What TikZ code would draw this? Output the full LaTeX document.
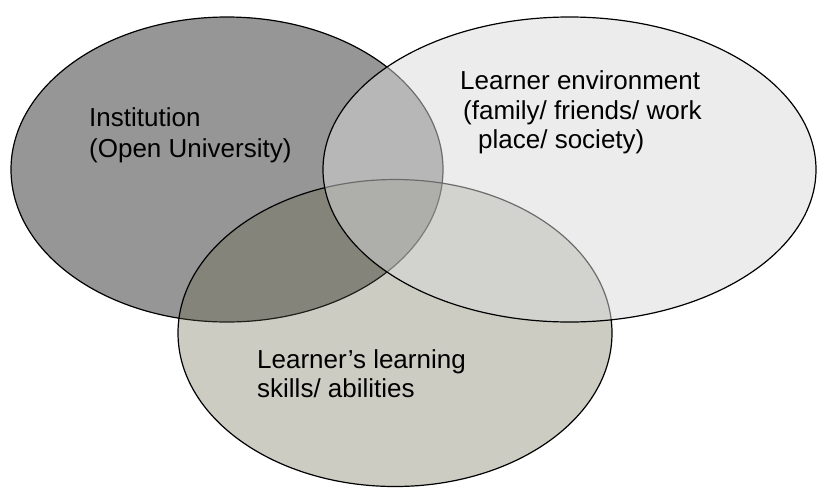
\documentclass[tikz,border=0pt]{standalone}
\usepackage{fontspec}
\setmainfont{Liberation Sans}
\usetikzlibrary{shapes.geometric}
\definecolor{darkfill}{RGB}{150,150,150}
\definecolor{olivefill}{RGB}{95,96,69}
\definecolor{lightfill}{RGB}{217,217,217}
\tikzset{
  venn/.style={ellipse, draw=black, line width=1.2pt, inner sep=0pt},
  lbl/.style={anchor=base west, inner sep=0pt, font=\fontsize{26}{30}\selectfont, text=black}
}
\begin{document}
\begin{tikzpicture}[x=1pt,y=-1pt]
\useasboundingbox (0,0) rectangle (817,488);
\node[venn, fill=darkfill, minimum width=432pt, minimum height=305pt] (inst) at (227,169.5) {};
\node[venn, fill=olivefill, fill opacity=0.32, minimum width=434pt, minimum height=307pt] (skills) at (395,333) {};
\node[venn, fill=lightfill, fill opacity=0.5, minimum width=493pt, minimum height=305pt] (env) at (569.5,169.5) {};
\node[lbl] (t1) at (89,126) {Institution};
\node[lbl] (t2) at (89,157) {(Open University)};
\node[lbl] (e1) at (460,89) {Learner environment};
\node[lbl] (e2) at (463,119) {(family/ friends/ work};
\node[lbl] (e3) at (478,148) {place/ society)};
\node[lbl] (s1) at (257,368) {Learner’s learning};
\node[lbl] (s2) at (257,397) {skills/ abilities};
\end{tikzpicture}
\end{document}
